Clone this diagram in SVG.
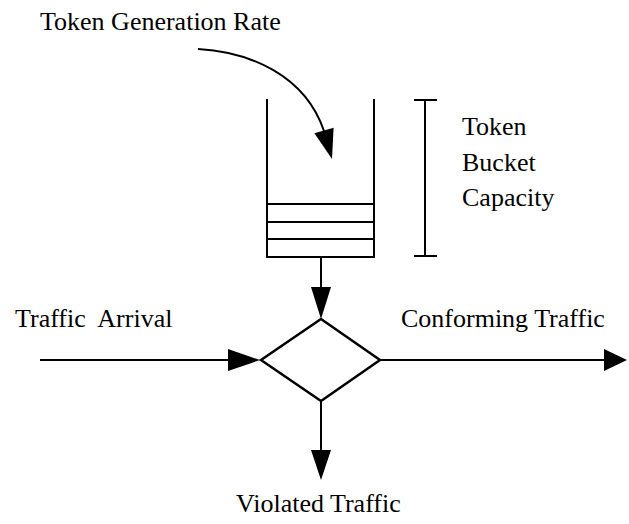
<svg xmlns="http://www.w3.org/2000/svg" width="629" height="524" viewBox="0 0 629 524">
  <style>
    .ln { fill: none; stroke: #000; stroke-width: 2; }
    .head { fill: #000; stroke: none; }
    .lbl { font-family: 'Liberation Serif', 'Times New Roman', Times, serif; font-size: 26px; fill: #000; white-space: pre; }
  </style>
  <rect width="629" height="524" fill="#fff"/>

  <!-- token bucket -->
  <g id="bucket">
    <path class="ln" d="M267,99 V257 H374 V99"/>
    <line class="ln" x1="267" y1="204" x2="374" y2="204"/>
    <line class="ln" x1="267" y1="222" x2="374" y2="222"/>
    <line class="ln" x1="267" y1="239" x2="374" y2="239"/>
  </g>

  <!-- capacity bracket -->
  <g id="capacity">
    <line class="ln" x1="425" y1="100" x2="425" y2="256"/>
    <line class="ln" x1="414" y1="100" x2="437" y2="100"/>
    <line class="ln" x1="414" y1="256" x2="437" y2="256"/>
    <text class="lbl" x="462" y="135" font-family="Liberation Serif, serif">Token</text>
    <text class="lbl" x="462" y="171" font-family="Liberation Serif, serif">Bucket</text>
    <text class="lbl" x="462" y="206" font-family="Liberation Serif, serif">Capacity</text>
  </g>

  <!-- policing decision -->
  <g id="decision">
    <polygon points="321,319 380,360 321,401 261,360" fill="#fff" stroke="#000" stroke-width="2.5"/>
  </g>

  <g id="labels">
    <text class="lbl" x="40" y="30" font-family="Liberation Serif, serif">Token Generation Rate</text>
    <text class="lbl" x="15" y="327" font-family="Liberation Serif, serif" xml:space="preserve">Traffic  Arrival</text>
    <text class="lbl" x="401" y="327" font-family="Liberation Serif, serif">Conforming Traffic</text>
    <text class="lbl" x="236" y="512" font-family="Liberation Serif, serif">Violated Traffic</text>
  </g>

  <!-- connectors -->
  <g id="connectors">
    <path class="ln" d="M198,49 C250,52 305,75 324,131"/>
    <polygon class="head" points="332,159 314.4,133.2 333.6,127.8"/>

    <line class="ln" x1="321" y1="257" x2="321" y2="288"/>
    <polygon class="head" points="321,319 311,287 331,287"/>

    <line class="ln" x1="40" y1="360" x2="229" y2="360"/>
    <polygon class="head" points="260,360 228,349 228,371"/>

    <line class="ln" x1="380" y1="360" x2="605" y2="360"/>
    <polygon class="head" points="627,360 604,349 604,371"/>

    <line class="ln" x1="321" y1="401" x2="321" y2="451"/>
    <polygon class="head" points="321,480 311,450 331,450"/>
  </g>
</svg>
